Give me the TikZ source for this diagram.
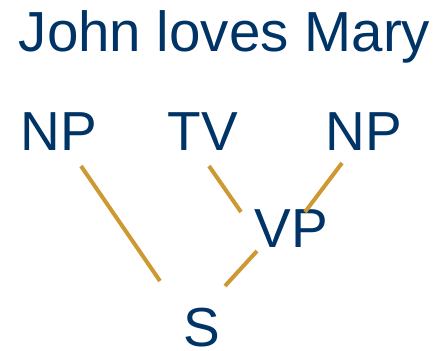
\documentclass[tikz,border=0pt]{standalone}
\usepackage{fontspec}
\setmainfont{Liberation Sans}
\usepackage{tikz}
\definecolor{navy}{HTML}{003366}
\definecolor{gold}{HTML}{CC9933}
\tikzstyle{word}=[text=navy, inner sep=0pt, anchor=base, font=\fontsize{55}{60}\selectfont]
\tikzstyle{link}=[draw=gold, line width=4pt]

\begin{document}
\begin{tikzpicture}[x=1pt, y=1pt]
    \useasboundingbox (0,0) rectangle (435,350);
    \node[word, font=\fontsize{56.5}{60}\selectfont] (title) at (224.5,298) {John loves Mary};

    \node[word] (np1) at (58.5,199) {NP};
    \node[word] (tv) at (203,199) {TV};
    \node[word] (np2) at (364,199) {NP};

    \node[word] (vp) at (291,102) {VP};
    \node[word] (s) at (201.5,4) {S};

    \draw[link] ([shift={(22.5,-15)}]np1.base) -- ([shift={(-41.5,65)}]s.base);
    \draw[link] ([shift={(6,-15)}]tv.base) -- ([shift={(-50,36)}]vp.base);
    \draw[link] ([shift={(-22,-12)}]np2.base) -- ([shift={(14,36)}]vp.base);
    \draw[link] ([shift={(-34,-3)}]vp.base) -- ([shift={(23.5,60)}]s.base);
  \end{tikzpicture}
\end{document}
